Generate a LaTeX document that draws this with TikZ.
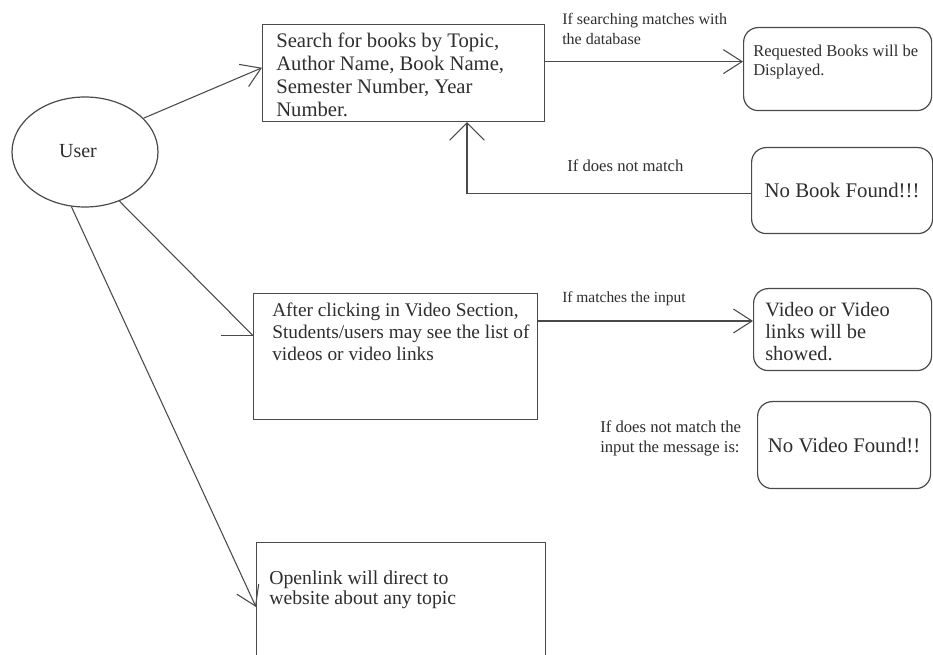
\documentclass[tikz,border=0pt]{standalone}
\usepackage{fontspec}
\setmainfont{Liberation Serif}
\usetikzlibrary{arrows.meta,shapes.geometric}
\definecolor{ink}{HTML}{2E2E2E}
\definecolor{edge}{HTML}{4A4A4A}
\begin{document}
\begin{tikzpicture}[x=0.75pt,y=-0.75pt,
  box/.style={draw=edge,line width=0.9pt,rectangle,inner sep=0pt,anchor=north west},
  rbox/.style={box,rounded corners=11pt},
  % multi-line texts are placed by the baseline of their last line
  txt/.style={text=ink,inner sep=0pt,anchor=base west,align=left},
  bigtxt/.style={txt,font=\fontsize{15}{17}\selectfont},
  smalltxt/.style={txt,font=\fontsize{12.3}{15}\selectfont},
  link/.style={draw=edge,line width=0.8pt},
  arr/.style={link,-{Straight Barb[length=14pt,width=18pt]}}
]
\clip (0,0) rectangle (933,655);
\fill[white] (0,0) rectangle (933,655);

% actor
\node[draw=edge,line width=0.9pt,ellipse,minimum width=109.5pt,minimum height=82.5pt,inner sep=0pt] (user) at (85,152) {};
\node[text=ink,inner sep=0pt,font=\fontsize{15}{17}\selectfont] (usertxt) at (78,151) {User};

% book search
\node[box,minimum width=211.5pt,minimum height=72.75pt] (search) at (262,24) {};
\node[txt,font=\fontsize{15.5}{17.3}\selectfont] (searchtxt) at (276,117)
  {Search for books by Topic,\\Author Name, Book Name,\\Semester Number, Year\\Number.};

\node[rbox,minimum width=141pt,minimum height=62.25pt] (req) at (743,27) {};
\node[smalltxt,font=\fontsize{12.4}{14.5}\selectfont] (reqtxt) at (753,76)
  {Requested Books will be\\Displayed.};

\node[rbox,minimum width=135.75pt,minimum height=64.5pt,text=ink,
      font=\fontsize{15.6}{17}\selectfont] (nobook) at (751,147) {No Book Found!!!};

% video section
\node[box,minimum width=213pt,minimum height=94.5pt] (video) at (253,293) {};
\node[bigtxt,font=\fontsize{14.5}{16.5}\selectfont] (videotxt) at (272,361)
  {After clicking in Video Section,\\Students/users may see the list of\\videos or video links};

\node[rbox,minimum width=133.5pt,minimum height=61.5pt] (vres) at (753,288) {};
\node[bigtxt,font=\fontsize{15.3}{16.5}\selectfont] (vrestxt) at (765,361)
  {Video or Video\\links will be\\showed.};

\node[rbox,minimum width=129.75pt,minimum height=65.25pt,text=ink,
      font=\fontsize{15.6}{17}\selectfont] (novideo) at (757,401) {No Video Found!!};

% open link
\node[box,minimum width=216.75pt,minimum height=103.5pt] (openlink) at (256,542) {};
\node[bigtxt,font=\fontsize{14.8}{15}\selectfont] (opentxt) at (269,605)
  {Openlink will direct to\\website about any topic};

% connector labels
\node[smalltxt,font=\fontsize{12}{15}\selectfont] (lab1) at (562,45) {If searching matches with\\the database};
\node[smalltxt,font=\fontsize{12.5}{15}\selectfont] (lab2) at (567,172) {If does not match};
\node[smalltxt,font=\fontsize{11.6}{15}\selectfont] (lab3) at (562,303) {If matches the input};
\node[smalltxt,font=\fontsize{12.5}{15}\selectfont] (lab4) at (600,453) {If does not match the\\input the message is:};

% connectors
\draw[arr] (user.30) -- ([yshift=4pt]search.west);

\coordinate (vidIn) at ([yshift=-32pt]video.north west);
\coordinate (vidTick) at ([xshift=-24pt]vidIn);
\draw[link] (user.-55) -- (vidIn);
\draw[link] (vidTick) -- (vidIn);

\coordinate (openIn) at ([yshift=-48.75pt]openlink.north west);
\draw[arr] (user.-104) -- (openIn);

\coordinate (s1) at ([yshift=8.6pt]search.east);
\draw[arr] (s1) -- (s1 -| req.west);

\coordinate (fb) at ([xshift=153.75pt]search.south west);
\draw[link,-{Straight Barb[length=13pt,width=26pt]}] ([yshift=-2pt]nobook.west) -| (fb);

\coordinate (v1) at ([yshift=-21pt]video.north east);
\draw[arr] (v1) -- (v1 -| vres.west);
\end{tikzpicture}
\end{document}
